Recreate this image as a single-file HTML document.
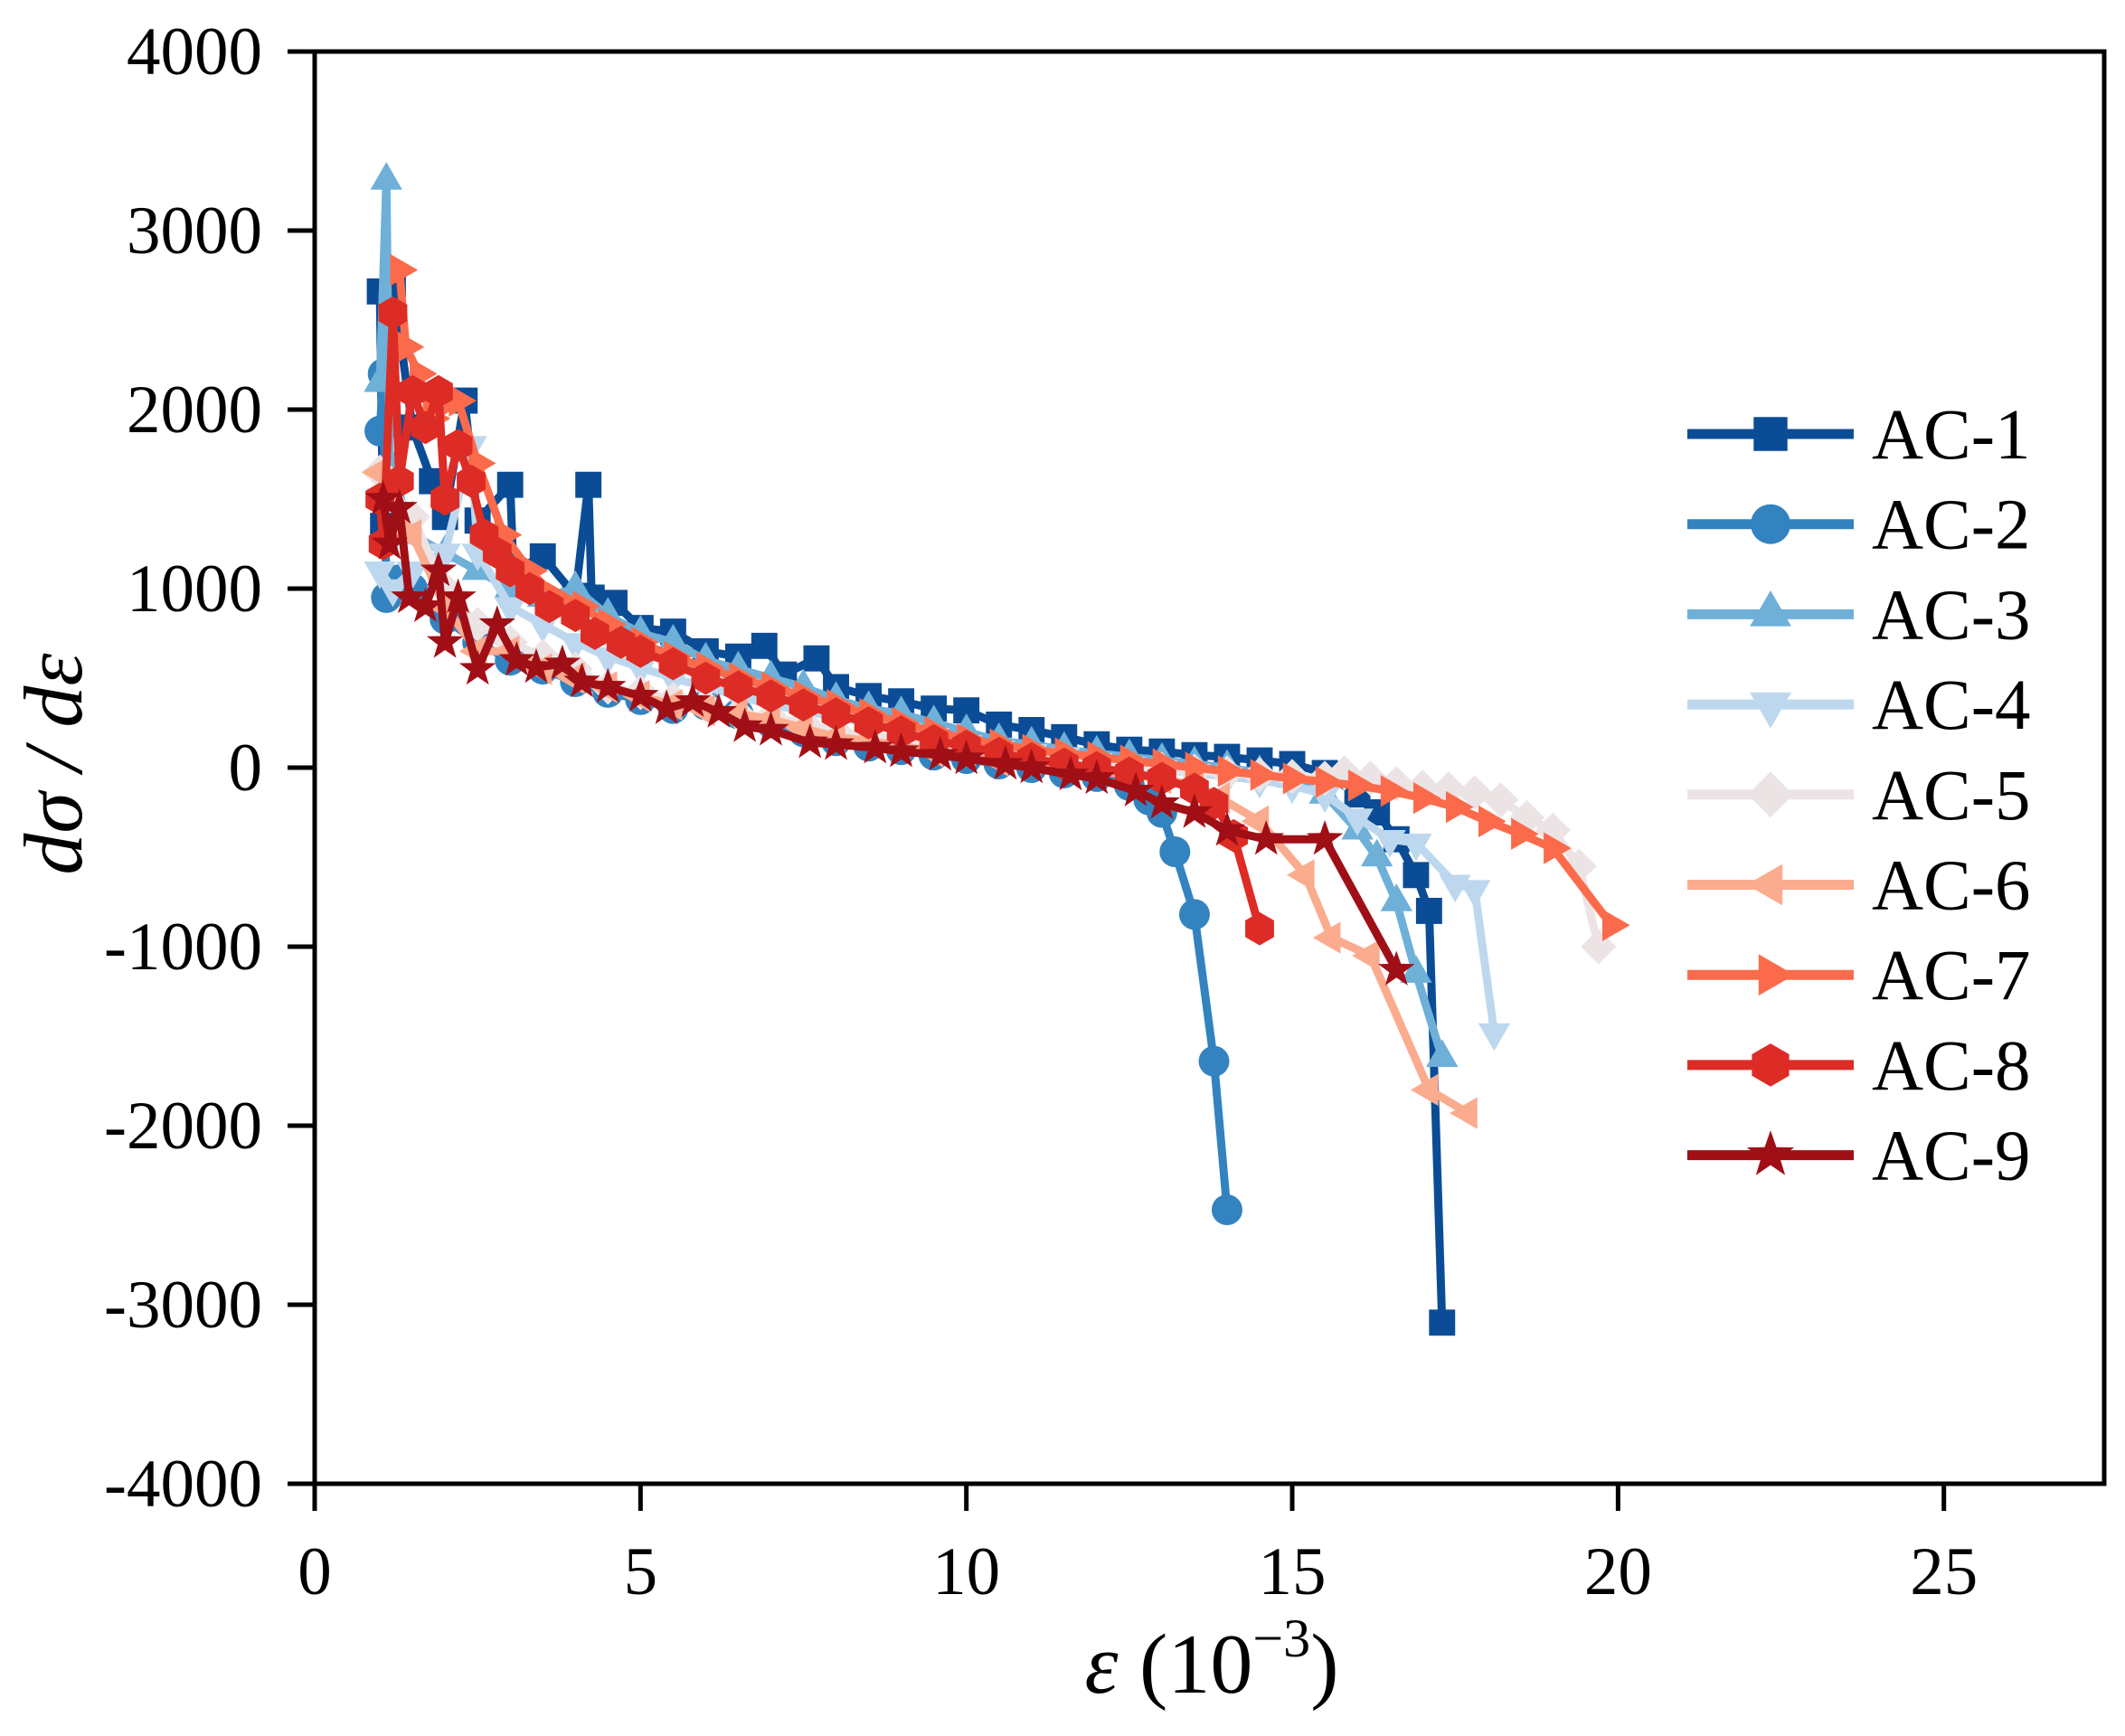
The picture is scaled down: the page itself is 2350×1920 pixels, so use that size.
<!DOCTYPE html>
<html><head><meta charset="utf-8"><style>
html,body{margin:0;padding:0;background:#fff;}
svg{display:block;font-family:"Liberation Serif",serif;}
</style></head><body>
<svg id="chart" width="2350" height="1920" viewBox="0 0 2350 1920" xmlns="http://www.w3.org/2000/svg">
<rect width="2350" height="1920" fill="#fff"/>
<g id="plot"></g>
<g id="axes"></g>
<g id="legend"></g>
<text transform="translate(90,845) rotate(-90)" text-anchor="middle" font-size="92" font-style="italic">dσ / dε</text>
<text x="1340" y="1872" text-anchor="middle" font-size="94"><tspan font-style="italic">ε</tspan> (10<tspan font-size="60" dy="-40">−3</tspan><tspan dy="40">)</tspan></text>
</svg>
<script>
const xTicks=[0,5,10,15,20,25];
const yTicks=[4000,3000,2000,1000,0,-1000,-2000,-3000,-4000];
const yTickLabels=["4000","3000","2000","1000","0","-1000","-2000","-3000","-4000"];
const seriesNames=["AC-1","AC-2","AC-3","AC-4","AC-5","AC-6","AC-7","AC-8","AC-9"];
const ac1x=[1.0,1.05,1.2,1.5,1.8,2.0,2.3,2.5,3.0,3.05,3.5,4.0,4.2,4.25,4.6,5.0,5.5,6.0,6.5,6.9,7.2,7.7,8.0,8.5,9.0,9.5,10.0,10.5,11,11.5,12,12.5,13,13.5,14,14.5,15,15.5,16,16.3,16.6,16.9,17.1,17.3];
const ac1y=[2660,1350,2700,1900,1600,1400,2050,1380,1580,1100,1180,960,1580,950,920,780,760,650,620,680,520,610,450,400,370,330,320,240,210,170,130,100,90,70,60,40,20,-30,-150,-250,-400,-600,-800,-3100];
const ac2x=[1.0,1.05,1.1,1.3,1.5,2.0,2.5,3,3.5,4,4.5,5,5.5,6,6.5,7,7.5,8,8.5,9,9.5,10,10.5,11,11.5,12,12.5,12.8,13.0,13.2,13.5,13.8,14.0];
const ac2y=[1880,2200,950,1050,1000,830,700,600,550,480,420,380,330,350,300,250,200,150,120,100,70,50,20,0,-30,-50,-100,-180,-250,-470,-820,-1640,-2470];
const ac3x=[1.0,1.1,1.15,1.5,2,2.5,3,3.5,4.0,4.5,5,5.5,6,6.5,7,7.5,8,8.5,9,9.5,10,10.5,11,11.5,12,12.5,13,13.5,14,14.5,15,15.5,16,16.3,16.6,16.9,17.3];
const ac3y=[2150,3280,1700,1300,1200,1100,1000,950,1000,850,750,700,600,550,500,450,380,330,300,250,200,150,130,100,80,60,40,20,0,-30,-60,-150,-350,-500,-750,-1150,-1620];
const ac4x=[1.0,1.2,1.5,2,2.4,2.5,3,3.5,4,4.5,5,5.5,6,6.5,7,7.5,8,8.5,9,9.5,10,10.5,11,11.5,12,12.5,13,13.5,14,14.5,15,15.5,16,16.5,16.9,17.5,17.8,18.1];
const ac4y=[1100,1000,1100,1200,1800,1200,900,800,700,620,560,500,450,400,350,320,280,250,200,170,130,100,80,60,30,10,-10,-30,-50,-70,-100,-150,-280,-400,-420,-650,-680,-1480];
const ac5x=[1.0,1.5,2,2.5,3,3.5,4,4.5,5,5.5,6,6.5,7,7.5,8,8.5,9,9.5,10,10.5,11,11.5,12,12.5,13,13.5,14,14.5,15,15.5,15.8,16.2,16.6,17,17.4,17.8,18.2,18.6,19,19.4,19.7];
const ac5y=[1650,1400,1000,800,700,620,550,450,420,380,350,300,280,250,200,180,150,120,100,80,50,40,20,0,-10,-20,-30,-40,-50,-60,-30,-60,-90,-110,-120,-140,-180,-280,-350,-550,-1000];
const ac6x=[1.0,1.5,2,2.5,3,3.5,4,4.5,5,5.5,6,6.5,7,7.5,8,8.5,9,9.5,10,10.5,11,11.5,12,12.5,13,13.5,13.9,14.5,15.2,15.6,16.2,17.1,17.7];
const ac6y=[1650,1300,900,650,650,550,500,450,400,350,320,300,270,220,170,150,120,90,70,40,20,0,-20,-40,-60,-100,-170,-300,-600,-950,-1050,-1800,-1930];
const ac7x=[1.3,1.4,1.6,1.8,2.2,2.5,2.9,3.3,3.7,4.1,4.5,5,5.5,6,6.5,7,7.5,8,8.5,9,9.5,10,10.5,11,11.5,12,12.5,13,13.5,14,14.5,15,15.5,16,16.5,17,17.5,18,18.5,19,19.9];
const ac7y=[2780,2350,2200,1950,2050,1700,1300,1100,950,900,800,700,620,560,500,450,400,350,300,250,200,160,130,100,80,60,40,20,0,-20,-40,-60,-80,-100,-130,-170,-220,-300,-370,-450,-880];
const ac8x=[1.0,1.05,1.2,1.3,1.5,1.7,1.9,2.0,2.2,2.4,2.6,2.8,3.0,3.3,3.6,4,4.3,4.7,5,5.5,6,6.5,7,7.5,8,8.5,9,9.5,10,10.5,11,11.5,12,12.5,13,13.5,13.8,14.1,14.5];
const ac8y=[1500,1250,2540,1600,2100,1900,2100,1500,1800,1600,1300,1200,1100,1000,900,850,750,700,650,580,500,450,400,350,300,250,200,150,120,80,50,20,0,-30,-60,-120,-200,-380,-900];
const ac9x=[1.05,1.15,1.3,1.45,1.7,1.9,2.0,2.2,2.5,2.8,3.1,3.4,3.8,4.1,4.5,5,5.4,5.8,6.2,6.6,7,7.6,8,8.6,9,9.6,10,10.6,11,11.6,12,12.6,13,13.5,14,14.6,15.5,16.6];
const ac9y=[1500,1250,1450,950,900,1100,700,950,550,800,600,560,580,480,450,400,330,370,310,230,210,140,130,110,90,70,50,20,0,-40,-60,-130,-200,-250,-350,-400,-400,-1130];

const NS="http://www.w3.org/2000/svg";
const L=348,R=2327,T=57,B=1641,XMAX=27.46;
const sx=v=>L+v/XMAX*(R-L);
const sy=v=>T+(4000-v)/8000*(B-T);
const colors=["#0b4c96","#3383c0","#6eb0d8","#bdd8ee","#ece3e5","#fbab8e","#fb6b4b","#dd2c25","#a00f16"];
const shapes=["square","circle","tri-up","tri-down","diamond","tri-left","tri-right","hexagon","star"];
const XS=[ac1x,ac2x,ac3x,ac4x,ac5x,ac6x,ac7x,ac8x,ac9x];
const YS=[ac1y,ac2y,ac3y,ac4y,ac5y,ac6y,ac7y,ac8y,ac9y];

function markerPath(s,x,y,r){
  let pts=[];
  if(s==="square") return `M${x-r*0.85},${y-r*0.85}h${r*1.7}v${r*1.7}h${-r*1.7}Z`;
  if(s==="circle") return `M${x-r},${y}a${r},${r} 0 1,0 ${2*r},0a${r},${r} 0 1,0 ${-2*r},0Z`;
  const poly=(n,rot,rad)=>{for(let i=0;i<n;i++){const a=rot+i*2*Math.PI/n;pts.push([x+rad*Math.cos(a),y+rad*Math.sin(a)]);}};
  if(s==="tri-up") poly(3,-Math.PI/2,r*1.2);
  if(s==="tri-down") poly(3,Math.PI/2,r*1.2);
  if(s==="tri-left") poly(3,Math.PI,r*1.2);
  if(s==="tri-right") poly(3,0,r*1.2);
  if(s==="diamond") poly(4,0,r*1.15);
  if(s==="hexagon") poly(6,-Math.PI/2,r*1.08);
  if(s==="star"){for(let i=0;i<10;i++){const a=-Math.PI/2+i*Math.PI/5;const rr=i%2?r*0.5:r*1.25;pts.push([x+rr*Math.cos(a),y+rr*Math.sin(a)]);}}
  return "M"+pts.map(p=>p[0].toFixed(1)+","+p[1].toFixed(1)).join("L")+"Z";
}

const plot=document.getElementById("plot");
for(let k=0;k<9;k++){
  const g=document.createElementNS(NS,"g");
  
  
  const line=document.createElementNS(NS,"polyline");
  
  
  line.setAttribute("points",XS[k].map((v,i)=>sx(v).toFixed(1)+","+sy(YS[k][i]).toFixed(1)).join(" "));
  line.setAttribute("fill","none");line.setAttribute("stroke",colors[k]);line.setAttribute("stroke-width","9");line.setAttribute("stroke-linejoin","round");
  g.appendChild(line);
  let d="";
  XS[k].forEach((v,i)=>{d+=markerPath(shapes[k],sx(v),sy(YS[k][i]),17);});
  const m=document.createElementNS(NS,"path");
  
  
  m.setAttribute("d",d);m.setAttribute("fill",colors[k]);
  g.appendChild(m);
  plot.appendChild(g);
}

const axes=document.getElementById("axes");
const frame=document.createElementNS(NS,"rect");


frame.setAttribute("x",L);frame.setAttribute("y",T);frame.setAttribute("width",R-L);frame.setAttribute("height",B-T);
frame.setAttribute("fill","none");frame.setAttribute("stroke","#000");frame.setAttribute("stroke-width","5");
axes.appendChild(frame);
yTicks.forEach((v,i)=>{
  const t=document.createElementNS(NS,"line");
  
  
  t.setAttribute("x1",L-30);t.setAttribute("x2",L);t.setAttribute("y1",sy(v));t.setAttribute("y2",sy(v));
  t.setAttribute("stroke","#000");t.setAttribute("stroke-width","5");axes.appendChild(t);
  const lb=document.createElementNS(NS,"text");
  
  
  lb.setAttribute("x",L-58);lb.setAttribute("y",sy(v)+25);lb.setAttribute("text-anchor","end");lb.setAttribute("font-size","75");
  lb.textContent=yTickLabels[i];axes.appendChild(lb);
});
xTicks.forEach(v=>{
  const t=document.createElementNS(NS,"line");
  
  
  t.setAttribute("x1",sx(v));t.setAttribute("x2",sx(v));t.setAttribute("y1",B);t.setAttribute("y2",B+30);
  t.setAttribute("stroke","#000");t.setAttribute("stroke-width","5");axes.appendChild(t);
  const lb=document.createElementNS(NS,"text");
  
  
  lb.setAttribute("x",sx(v));lb.setAttribute("y",B+122);lb.setAttribute("text-anchor","middle");lb.setAttribute("font-size","75");
  lb.textContent=String(v);axes.appendChild(lb);
});

const leg=document.getElementById("legend");
for(let k=0;k<9;k++){
  const y=480+k*99.7;
  const g=document.createElementNS(NS,"g");
  
  
  const ln=document.createElementNS(NS,"line");
  
  
  ln.setAttribute("x1",1866);ln.setAttribute("x2",2050);ln.setAttribute("y1",y);ln.setAttribute("y2",y);
  ln.setAttribute("stroke",colors[k]);ln.setAttribute("stroke-width","11");g.appendChild(ln);
  const m=document.createElementNS(NS,"path");
  
  
  m.setAttribute("d",markerPath(shapes[k],1958,y,22));m.setAttribute("fill",colors[k]);g.appendChild(m);
  const tx=document.createElementNS(NS,"text");
  
  
  tx.setAttribute("x",2070);tx.setAttribute("y",y+27);tx.setAttribute("font-size","79");
  tx.textContent=seriesNames[k];g.appendChild(tx);
  leg.appendChild(g);
}
</script>
</body></html>
